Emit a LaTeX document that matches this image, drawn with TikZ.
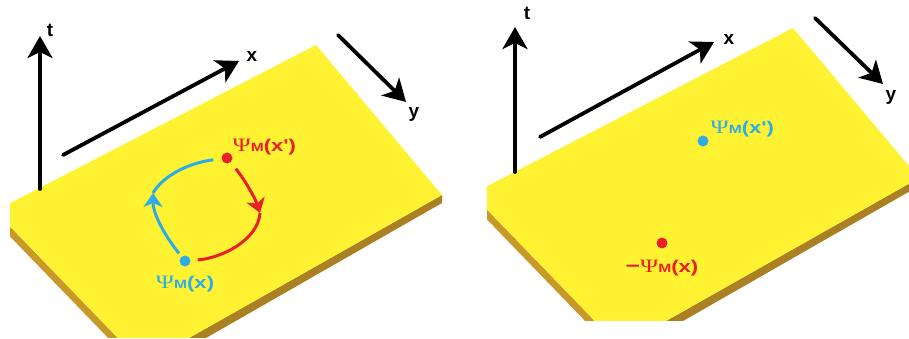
\documentclass[tikz,border=0pt]{standalone}
\usepackage{fontspec}
\setmainfont{Liberation Sans}
\newfontfamily\psifont{Liberation Serif}
\usetikzlibrary{arrows.meta, positioning}

\definecolor{plateyellow}{RGB}{255,242,51}
\definecolor{plateside}{RGB}{200,152,40}
\definecolor{platesidedark}{RGB}{170,128,34}
\definecolor{psired}{RGB}{232,32,40}
\definecolor{psiblue}{RGB}{45,172,232}

\newcommand{\psilabel}[1]{{\psifont\mdseries\fontsize{19}{19}\selectfont Ψ}%
  {\fontsize{12}{12}\selectfont M}{\fontsize{17}{17}\selectfont(#1)}}

\begin{document}
\begin{tikzpicture}[
    x = 1pt, y = -1pt,
    font        = \bfseries\fontsize{19}{19}\selectfont,
    top/.style  = {fill=plateyellow},
    side/.style = {fill=plateside},
    sidedark/.style = {fill=platesidedark},
    axis/.style = {line width=3.8pt, line cap=round,
                   -{Stealth[length=22pt, width=25pt, inset=6pt]}},
    dot/.style  = {circle, inner sep=0pt, minimum size=11pt},
    lbl/.style  = {inner sep=1pt, xscale=1.3},
    flow/.style = {line width=3pt},
    headed/.style = {-{Stealth[length=14pt, width=19pt, inset=4pt]}},
  ]
  \useasboundingbox (0,0) rectangle (909,339);

  % left plate: closed loop
  \begin{scope}
    \clip (10,0) rectangle (455,337);
    \fill[side] (-5,211) -- (143,364) -- (143,374) -- (-5,221) -- cycle;
    \fill[sidedark] (143,364) -- (442,195) -- (442,203) -- (143,374) -- cycle;
    \fill[top] (-5,211) -- (316,45) -- (442,195) -- (143,364) -- cycle;

    \coordinate (t0) at (40,189);  \coordinate (t1) at (40,36);
    \coordinate (x0) at (63,155);  \coordinate (x1) at (239,61);
    \coordinate (y0) at (338,35);  \coordinate (y1) at (406,102);
    \draw[axis] (t0) -- (t1);
    \draw[axis] (x0) -- (x1);
    \draw[axis] (y0) -- (y1);
    \node (tlab) at (50,30) {t};
    \node (xlab) at (252,56) {x};
    \node (ylab) at (414,114) {y};

    \node[dot, fill=psired]  (xp) at (227,158) {};
    \node[dot, fill=psiblue] (xq) at (185,261) {};
    \node[lbl, text=psired, above right=-2pt and 0pt of xp] (xplab) {\psilabel{x\textquotesingle}};
    \node[lbl, text=psiblue, below=8pt of xq] (xqlab) {\psilabel{x}};

    \coordinate (bturn) at (153,193);
    \coordinate (rturn) at (260,213);
    \draw[flow, psiblue, headed, shorten <=4pt] (xq) .. controls (162,232) and (153,212) .. (bturn);
    \draw[flow, psiblue, shorten >=8pt] (bturn) .. controls (163,176) and (188,163) .. (xp);
    \draw[flow, psired, headed, shorten <=8pt] (xp) .. controls (245,180) and (255,198) .. (rturn);
    \draw[flow, psired, shorten >=7pt] (rturn) .. controls (258,240) and (222,258) .. (xq);
  \end{scope}

  % right plate: two separate points
  \begin{scope}
    \clip (487,0) rectangle (909,320);
    \fill[side] (472,194) -- (620,347) -- (620,357) -- (472,204) -- cycle;
    \fill[sidedark] (620,347) -- (919,178) -- (919,186) -- (620,357) -- cycle;
    \fill[top] (472,194) -- (793,28) -- (919,178) -- (620,347) -- cycle;

    \coordinate (t2) at (515,172); \coordinate (t3) at (515,27);
    \coordinate (x2) at (540,137); \coordinate (x3) at (714,42);
    \coordinate (y2) at (815,18);  \coordinate (y3) at (883,84);
    \draw[axis] (t2) -- (t3);
    \draw[axis] (x2) -- (x3);
    \draw[axis] (y2) -- (y3);
    \node (tlab2) at (527,13) {t};
    \node (xlab2) at (729,39) {x};
    \node (ylab2) at (891,97) {y};

    \node[dot, fill=psiblue] (yp) at (703,141) {};
    \node[dot, fill=psired]  (yq) at (662,243) {};
    \node[lbl, text=psiblue, above right=-1pt and 2pt of yp] (yplab) {\psilabel{x\textquotesingle}};
    \node[lbl, text=psired, below=10pt of yq] (yqlab) {−\psilabel{x}};
  \end{scope}
\end{tikzpicture}
\end{document}
